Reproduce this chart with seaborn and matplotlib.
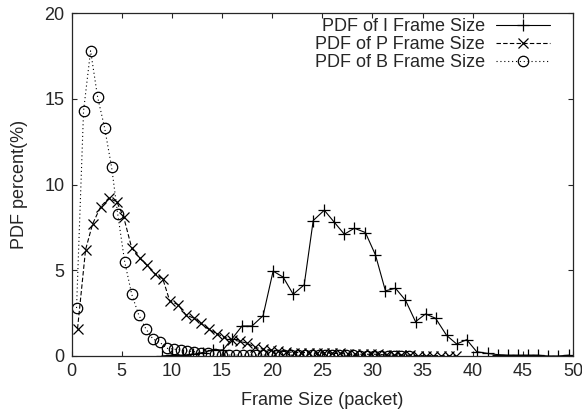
import matplotlib
matplotlib.use("Agg")
import matplotlib.pyplot as plt
import seaborn as sns

# frame size PDFs (x in packets, y in percent)
I_x = [9.0, 10.0, 11.1, 12.1, 13.1, 14.1, 15.1, 16.0, 17.0, 18.0,
       19.1, 20.1, 21.1, 22.1, 23.2, 24.1, 25.2, 26.2, 27.2, 28.2,
       29.3, 30.3, 31.3, 32.3, 33.3, 34.3, 35.3, 36.3, 37.4, 38.4,
       39.4, 40.4, 41.5, 42.5, 43.5, 44.5, 45.5, 46.5, 47.5, 48.5, 49.6]
I_y = [0.0, 0.05, 0.05, 0.1, 0.2, 0.35, 0.35, 1.0, 1.75, 1.75,
       2.35, 4.95, 4.6, 3.6, 4.15, 7.9, 8.5, 7.8, 7.1, 7.45,
       7.2, 5.9, 3.8, 3.95, 3.25, 2.0, 2.45, 2.2, 1.2, 0.7,
       0.95, 0.25, 0.15, 0.08, 0.05, 0.05, 0.05, 0.05, 0.0, 0.0, 0.05]

P_x = [0.6, 1.4, 2.1, 2.9, 3.7, 4.5, 5.2, 6.0, 6.8, 7.5,
       8.3, 9.1, 9.8, 10.6, 11.4, 12.2, 12.9, 13.7, 14.5, 15.2,
       16.0, 16.8, 17.5, 18.3, 19.1, 19.9, 20.6, 21.4, 22.2, 22.9,
       23.7, 24.5, 25.2, 26.0, 26.8, 27.6, 28.3, 29.1, 29.9, 30.6,
       31.4, 32.2, 32.9, 33.7, 34.5, 35.3, 36.0, 36.8, 37.6, 38.3]
P_y = [1.6, 6.2, 7.7, 8.7, 9.2, 9.0, 8.1, 6.3, 5.7, 5.3,
       4.8, 4.5, 3.2, 3.0, 2.4, 2.2, 1.9, 1.55, 1.3, 1.1,
       0.95, 0.85, 0.75, 0.5, 0.4, 0.35, 0.3, 0.25, 0.2, 0.2,
       0.2, 0.15, 0.2, 0.15, 0.15, 0.1, 0.1, 0.1, 0.1, 0.1,
       0.05, 0.05, 0.05, 0.05, 0.02, 0.02, 0.02, 0.02, 0.02, 0.02]

B_x = [0.5, 1.2, 1.9, 2.6, 3.3, 4.0, 4.6, 5.3, 6.0, 6.7,
       7.4, 8.1, 8.8, 9.5, 10.2, 10.9, 11.5, 12.2, 12.9, 13.6,
       14.3, 15.0, 15.7, 16.4, 17.1, 17.8, 18.4, 19.1, 19.8, 20.5,
       21.2, 21.9, 22.6, 23.3, 24.0, 24.7, 25.3, 26.0, 26.7, 27.4,
       28.1, 28.8, 29.5, 30.2, 30.9, 31.6, 32.2, 32.9, 33.6]
B_y = [2.8, 14.3, 17.8, 15.1, 13.3, 11.0, 8.3, 5.5, 3.6, 2.4,
       1.6, 1.0, 0.8, 0.45, 0.4, 0.35, 0.3, 0.25, 0.2, 0.15,
       0.1, 0.05, 0.05, 0.05, 0.05, 0.05, 0.05, 0.05, 0.05, 0.05,
       0.05, 0.05, 0.03, 0.03, 0.03, 0.03, 0.03, 0.03, 0.03, 0.03,
       0.03, 0.02, 0.02, 0.02, 0.02, 0.02, 0.02, 0.02, 0.02]

x_ticks = [0, 5, 10, 15, 20, 25, 30, 35, 40, 45, 50]
y_ticks = [0, 5, 10, 15, 20]

sns.set_style("ticks")
plt.rcParams['font.family'] = ['Liberation Sans', 'DejaVu Sans']
plt.rcParams['font.size'] = 13

fig = plt.figure(figsize=(5.82, 4.17), dpi=100)
ax = fig.add_axes([0.1229, 0.1463, 0.8616, 0.8225])

common = dict(ax=ax, color='black', linewidth=0.8, markeredgecolor='black',
              markeredgewidth=0.9)

sns.lineplot(x=I_x, y=I_y, marker='+', linestyle='-', markersize=8,
             label='PDF of I Frame Size', **common)
sns.lineplot(x=P_x, y=P_y, marker='x', linestyle=(0, (4, 2)), markersize=7,
             label='PDF of P Frame Size', **common)
sns.lineplot(x=B_x, y=B_y, marker='o', markerfacecolor='none', markersize=7.5,
             linestyle=(0, (1, 2.5)), label='PDF of B Frame Size', **common)

ax.set_xlim(0, 50)
ax.set_ylim(0, 20)
ax.set_xticks(x_ticks)
ax.set_yticks(y_ticks)
ax.tick_params(direction='in', top=True, right=True, length=3.6, width=0.8,
               labelsize=13, pad=5)
for s in ax.spines.values():
    s.set_linewidth(0.9)
    s.set_visible(True)

ax.set_xlabel('Frame Size (packet)', fontsize=13, labelpad=9)
ax.set_ylabel('PDF percent(%)', fontsize=13, labelpad=12)

leg = ax.legend(loc='upper right', bbox_to_anchor=(0.954, 0.985),
                frameon=False, markerfirst=False, numpoints=1,
                handlelength=3.0, handletextpad=0.6, labelspacing=0.05,
                borderpad=0, borderaxespad=0, fontsize=13)

fig.savefig('out.png', dpi=100)
